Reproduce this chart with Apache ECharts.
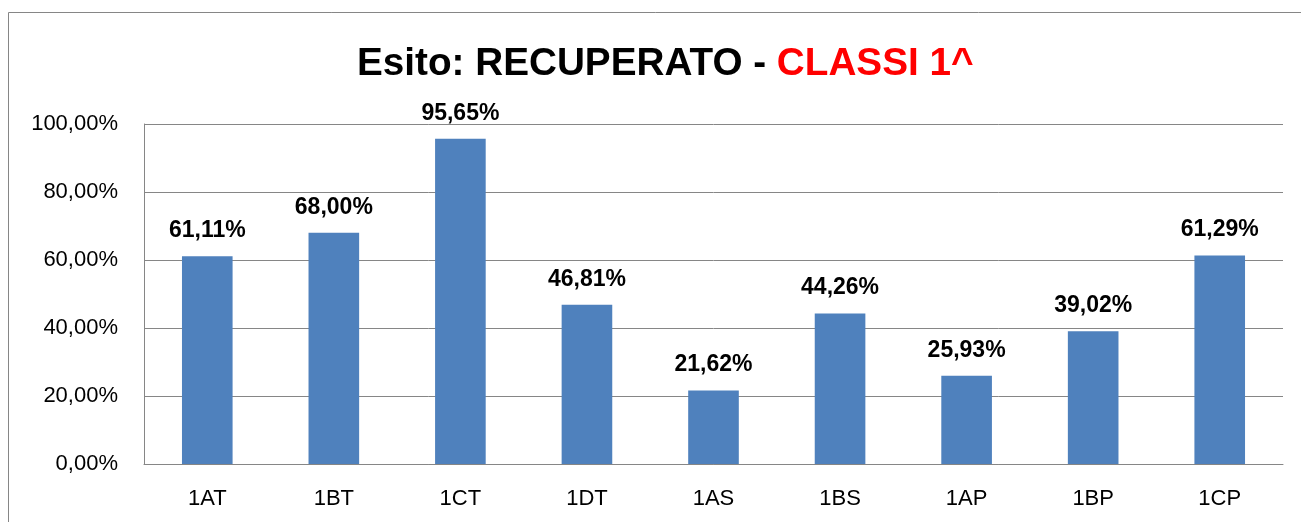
<!DOCTYPE html>
<html><head><meta charset="utf-8">
<script src="https://cdn.jsdelivr.net/npm/echarts@6/dist/echarts.min.js"></script>
<style>html,body{margin:0;padding:0;background:#fff}#c{width:1301px;height:522px}</style>
</head><body><div id="c"></div>
<script>
const categories = ['1AT','1BT','1CT','1DT','1AS','1BS','1AP','1BP','1CP'];
const values = [61.11, 68.00, 95.65, 46.81, 21.62, 44.26, 25.93, 39.02, 61.29];
const yTicks = [0, 20, 40, 60, 80, 100];
const fmt = v => v.toFixed(2).replace('.', ',') + '%';
const font = '"Liberation Sans", Arial, sans-serif';
const chart = echarts.init(document.getElementById('c'), null, {renderer:'canvas'});
chart.setOption({
  animation:false,
  backgroundColor:'#fff',
  graphic:[{type:'rect', shape:{x:8.5,y:12.5,width:1400,height:600}, style:{fill:'none',stroke:'#868686',lineWidth:1}, silent:true}],
  title:{
    text:'{a|Esito: RECUPERATO - }{b|CLASSI 1^}',
    left:352, top:40,
    textStyle:{rich:{
      a:{fontFamily:font,fontWeight:'bold',fontSize:38.7,color:'#000'},
      b:{fontFamily:font,fontWeight:'bold',fontSize:38.7,color:'#ff0000'}
    }}
  },
  grid:{left:144,right:18,top:124,bottom:58},
  xAxis:{type:'category',data:categories,
    axisLine:{lineStyle:{color:'#868686',width:1}},axisTick:{show:false},
    axisLabel:{color:'#000',fontFamily:font,fontSize:22,margin:24}},
  yAxis:{type:'value',min:yTicks[0],max:yTicks[yTicks.length-1],interval:20,
    axisLine:{show:true,lineStyle:{color:'#868686',width:1}},axisTick:{show:false},
    splitLine:{lineStyle:{color:'#868686',width:1}},
    axisLabel:{color:'#000',fontFamily:font,fontSize:22,margin:26,formatter:v=>fmt(v)}},
  series:[{type:'bar',data:values,barWidth:'40%',
    itemStyle:{color:'#4F81BD'},
    label:{show:true,position:'top',distance:14,formatter:p=>fmt(p.value),
      color:'#000',fontFamily:font,fontWeight:'bold',fontSize:23}}]
});
</script></body></html>
